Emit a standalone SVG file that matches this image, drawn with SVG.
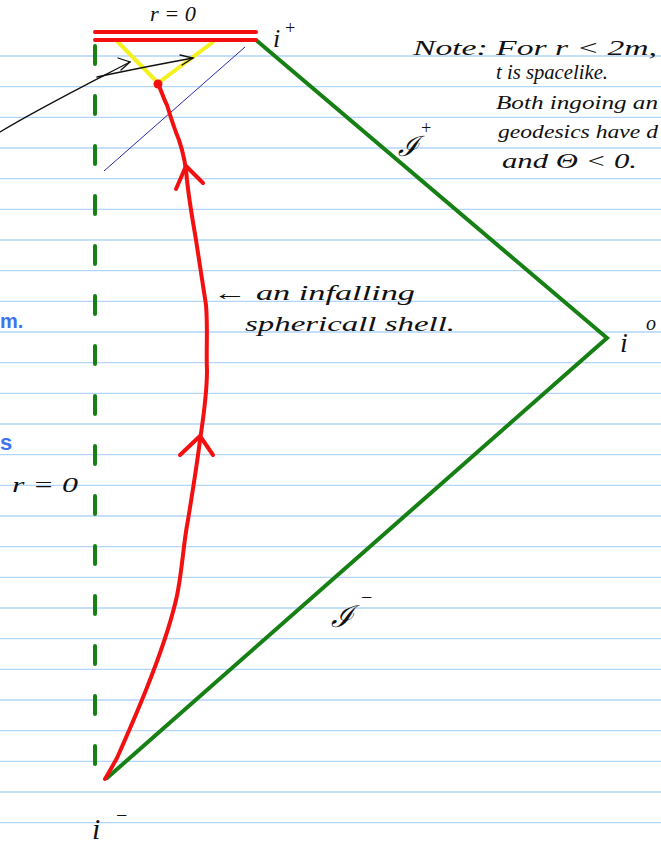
<svg xmlns="http://www.w3.org/2000/svg" width="661" height="844" viewBox="0 0 661 844">
<defs>
<style>
.rule{stroke:#b3d5f7;stroke-width:1.3}
.hw{font-family:"Liberation Serif",serif;font-style:italic;fill:#111}
.blue{font-family:"Liberation Sans",sans-serif;font-weight:bold;fill:#3d73ee}
.green{stroke:#168014;stroke-width:4;fill:none;stroke-linecap:round}
.red{stroke:#f21010;stroke-width:4;fill:none;stroke-linecap:round;stroke-linejoin:round}
.ink{stroke:#111;stroke-width:1.3;fill:none;stroke-linecap:round}
</style>
</defs>
<rect width="661" height="844" fill="#fff"/>
<g id="rules">
<line class="rule" x1="0" y1="56" x2="661" y2="56"/>
<line class="rule" x1="0" y1="86.7" x2="661" y2="86.7"/>
<line class="rule" x1="0" y1="117.4" x2="661" y2="117.4"/>
<line class="rule" x1="0" y1="148" x2="661" y2="148"/>
<line class="rule" x1="0" y1="178.7" x2="661" y2="178.7"/>
<line class="rule" x1="0" y1="209.4" x2="661" y2="209.4"/>
<line class="rule" x1="0" y1="240" x2="661" y2="240"/>
<line class="rule" x1="0" y1="270.7" x2="661" y2="270.7"/>
<line class="rule" x1="0" y1="301.4" x2="661" y2="301.4"/>
<line class="rule" x1="0" y1="332" x2="661" y2="332"/>
<line class="rule" x1="0" y1="362.7" x2="661" y2="362.7"/>
<line class="rule" x1="0" y1="393.4" x2="661" y2="393.4"/>
<line class="rule" x1="0" y1="424" x2="661" y2="424"/>
<line class="rule" x1="0" y1="454.7" x2="661" y2="454.7"/>
<line class="rule" x1="0" y1="485.4" x2="661" y2="485.4"/>
<line class="rule" x1="0" y1="516" x2="661" y2="516"/>
<line class="rule" x1="0" y1="546.7" x2="661" y2="546.7"/>
<line class="rule" x1="0" y1="577.4" x2="661" y2="577.4"/>
<line class="rule" x1="0" y1="608" x2="661" y2="608"/>
<line class="rule" x1="0" y1="638.7" x2="661" y2="638.7"/>
<line class="rule" x1="0" y1="669.4" x2="661" y2="669.4"/>
<line class="rule" x1="0" y1="700" x2="661" y2="700"/>
<line class="rule" x1="0" y1="730.7" x2="661" y2="730.7"/>
<line class="rule" x1="0" y1="761.4" x2="661" y2="761.4"/>
<line class="rule" x1="0" y1="792" x2="661" y2="792"/>
<line class="rule" x1="0" y1="822.7" x2="661" y2="822.7"/>
</g>
<g id="diagram">
<line class="green" x1="95" y1="46" x2="95" y2="780" stroke-dasharray="18 32"/>
<polyline class="green" points="256,40 607,338 107,778"/>
<line x1="104" y1="171" x2="245" y2="47" stroke="#2a2ab0" stroke-width="1"/>
<polyline points="117,41 158,83 213,42" fill="none" stroke="#f5f020" stroke-width="4" stroke-linecap="round"/>
<line class="red" x1="95" y1="32" x2="256" y2="32"/>
<line class="red" x1="95" y1="40" x2="256" y2="40"/>
<path class="red" d="M158,84 C162,92 164,100 167,105 C170,115 174,128 179,140 C184,155 186,165 187,180 C189,200 193,222 196,240 C199,260 203,285 206,305 C208,330 206,350 207,370 C207,395 203,420 200,440 C197,465 192,495 188,520 C183,545 182,575 176,600 C169,630 158,660 146,690 C136,715 125,740 117,758 C112,767 108,774 105,779"/>
<circle cx="158" cy="84" r="4.5" fill="#f21010"/>
<polyline class="red" points="176,189 186,166 203,183"/>
<polyline class="red" points="180,455 200,436 213,455"/>
<path class="ink" d="M0,132 C40,108 80,88 130,62"/>
<polyline class="ink" points="118,58 130,62 121,70"/>
<path class="ink" d="M97,77 C120,72 150,66 193,58"/>
<polyline class="ink" points="180,55 193,58 182,65"/>
</g>
<g id="labels">
<text class="hw" x="150" y="21" font-size="20" textLength="46" lengthAdjust="spacingAndGlyphs">r = 0</text>
<text class="hw" x="273" y="47" font-size="26">i</text>
<text class="hw" x="284" y="34" font-size="18">+</text>
<text class="hw" x="413" y="55" font-size="22" textLength="244" lengthAdjust="spacingAndGlyphs">Note: For r &lt; 2m,</text>
<text class="hw" x="496" y="79" font-size="20" textLength="112" lengthAdjust="spacingAndGlyphs">t is spacelike.</text>
<text class="hw" x="496" y="109" font-size="19" textLength="162" lengthAdjust="spacingAndGlyphs">Both ingoing an</text>
<text class="hw" x="498" y="138" font-size="19" textLength="160" lengthAdjust="spacingAndGlyphs">geodesics have d</text>
<text class="hw" x="502" y="168" font-size="20" textLength="135" lengthAdjust="spacingAndGlyphs">and Θ &lt; 0.</text>
<text class="hw" x="398" y="156" font-size="28">ℐ</text>
<text class="hw" x="420" y="134" font-size="18">+</text>
<text class="hw" x="213" y="300" font-size="22" textLength="202" lengthAdjust="spacingAndGlyphs">← an infalling</text>
<text class="hw" x="245" y="331" font-size="22" textLength="210" lengthAdjust="spacingAndGlyphs">sphericall shell.</text>
<text class="hw" x="620" y="352" font-size="28">i</text>
<text class="hw" x="646" y="330" font-size="20">o</text>
<text class="hw" x="331" y="627" font-size="30">ℐ</text>
<text class="hw" x="360" y="604" font-size="20">−</text>
<text class="hw" x="92" y="839" font-size="30">i</text>
<text class="hw" x="115" y="822" font-size="20">−</text>
<text class="hw" x="12" y="492" font-size="20" textLength="66" lengthAdjust="spacingAndGlyphs">r = 0</text>
<text class="blue" x="0" y="328" font-size="20">m.</text>
<text class="blue" x="0" y="450" font-size="22">s</text>
</g>
</svg>
